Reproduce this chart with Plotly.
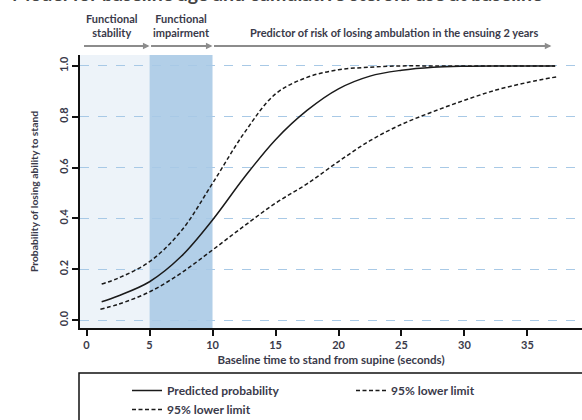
import plotly.graph_objects as go

# ---- data ----
x_pred = [1.2, 2.5, 5, 7.5, 10, 12.5, 15, 17.5, 20, 22.5, 25, 27.5, 30, 32.5, 35, 37.2]
y_pred = [0.072, 0.095, 0.151, 0.25, 0.394, 0.56, 0.71, 0.825, 0.91, 0.96, 0.983, 0.995, 0.999, 1.0, 1.0, 1.0]

x_up = [1.2, 2.5, 5, 7.5, 10, 12.5, 15, 17.5, 20, 22.5, 25, 27.5, 30, 32.5, 35, 37.2]
y_up = [0.142, 0.165, 0.23, 0.35, 0.538, 0.735, 0.89, 0.955, 0.985, 0.995, 1.0, 1.0, 1.0, 1.0, 1.0, 1.0]

x_lo = [1.1, 2.5, 5, 7.5, 10, 12.5, 15, 17.5, 20, 22.5, 25, 27.5, 30, 32.5, 35, 37.4]
y_lo = [0.043, 0.062, 0.111, 0.185, 0.276, 0.37, 0.46, 0.536, 0.624, 0.706, 0.77, 0.82, 0.865, 0.905, 0.935, 0.958]

x_ticks = [0, 5, 10, 15, 20, 25, 30, 35]
y_ticks = [0.0, 0.2, 0.4, 0.6, 0.8, 1.0]
y_ticklabels = ["0.0", "0.2", "0.4", "0.6", "0.8", "1.0"]

phase_bounds = [5, 10]  # functional stability | impairment | predictor
phase_labels = ["Functional<br>stability", "Functional<br>impairment",
                "Predictor of risk of losing ambulation in the ensuing 2 years"]
title_text = "Model for baseline age and cumulative steroid use at baseline"

FONT = "Lato"
TXT = "#3a3a4a"

W, H = 582, 420
ML, MR, MT, MB = 80, 0, 55, 92
PW, PH = W - ML - MR, H - MT - MB

def px_x(p):
    return (p - ML) / PW

def px_y(p):
    return (H - MB - p) / PH

XMIN, XMAX = -0.52, 39.33

fig = go.Figure()
fig.add_trace(go.Scatter(x=x_pred, y=y_pred, mode="lines", name="Predicted probability",
                         line=dict(color="#1a1a1a", width=1.5, shape="spline")))
fig.add_trace(go.Scatter(x=x_up, y=y_up, mode="lines", name="95% lower limit",
                         line=dict(color="#1a1a1a", width=1.5, dash="4px,2.5px", shape="spline")))
fig.add_trace(go.Scatter(x=x_lo, y=y_lo, mode="lines", name="95% lower limit",
                         line=dict(color="#1a1a1a", width=1.5, dash="4px,2.5px", shape="spline")))

# shaded phases
fig.add_shape(type="rect", xref="x", yref="paper", x0=XMIN, x1=phase_bounds[0], y0=0, y1=1,
              fillcolor="#edf3f9", line_width=0, layer="below")
fig.add_shape(type="rect", xref="x", yref="paper", x0=phase_bounds[0], x1=phase_bounds[1], y0=0, y1=1,
              fillcolor="#b2cfe8", line_width=0, layer="below")

# legend frame
fig.add_shape(type="rect", xref="paper", yref="paper", x0=px_x(79), x1=px_x(620),
              y0=px_y(440), y1=px_y(373), line=dict(color="#111", width=1.5), fillcolor="rgba(0,0,0,0)")

# header arrows
arrow_y = px_y(46)
segs = [(XMIN + 0.2, phase_bounds[0]), (phase_bounds[0], phase_bounds[1]), (phase_bounds[1], 36.9)]
for a, b in segs:
    fig.add_annotation(x=b, y=arrow_y, ax=a, ay=0, xref="x", yref="paper", axref="x", ayref="pixel",
                       showarrow=True, arrowhead=2, arrowsize=0.6, arrowwidth=2.2, arrowcolor="#8c8c8c", text="")

centers = [2.0, 7.5, 24.4]
for c, lab in zip(centers, phase_labels):
    fig.add_annotation(x=c, y=px_y(41), xref="x", yref="paper", text=lab, showarrow=False,
                       yanchor="bottom", xanchor="center",
                       font=dict(family=FONT, size=11, color=TXT, weight="bold"))

fig.add_annotation(x=px_x(277), y=px_y(-6), xref="paper", yref="paper", text=title_text, showarrow=False,
                   xanchor="center", yanchor="middle",
                   font=dict(family=FONT, size=19.5, color="#444", weight="bold"))

fig.update_layout(
    width=W, height=H,
    margin=dict(l=ML, r=MR, t=MT, b=MB, autoexpand=False),
    plot_bgcolor="white", paper_bgcolor="white",
    font=dict(family=FONT, size=11, color=TXT),
    showlegend=True,
    legend=dict(orientation="h", x=px_x(127), y=px_y(376), xanchor="left", yanchor="top",
                entrywidth=179, entrywidthmode="pixels", bgcolor="rgba(0,0,0,0)",
                font=dict(family=FONT, size=12, color=TXT, weight="bold"), tracegroupgap=0),
    xaxis=dict(range=[XMIN, XMAX], tickvals=x_ticks, showgrid=False, zeroline=False,
               showline=True, linecolor="#111", linewidth=1.5, ticks="outside", ticklen=6,
               tickwidth=1.5, tickcolor="#111",
               tickfont=dict(family=FONT, size=11, color=TXT, weight="bold"),
               title=dict(text="Baseline time to stand from supine (seconds)", standoff=6,
                          font=dict(family=FONT, size=11.5, color=TXT, weight="bold"))),
    yaxis=dict(range=[-0.031, 1.043], tickvals=y_ticks, ticktext=y_ticklabels, tickangle=-90,
               showgrid=True, gridcolor="#a8c9e6", griddash="dash", gridwidth=1.3, zeroline=False,
               showline=True, linecolor="#111", linewidth=1.5, ticks="outside", ticklen=6,
               tickwidth=1.5, tickcolor="#111",
               tickfont=dict(family=FONT, size=11, color=TXT, weight="bold"),
               title=dict(text="Probability of losing ability to stand", standoff=16,
                          font=dict(family=FONT, size=10.3, color=TXT, weight="bold"))),
)

fig.write_html("out.html")
